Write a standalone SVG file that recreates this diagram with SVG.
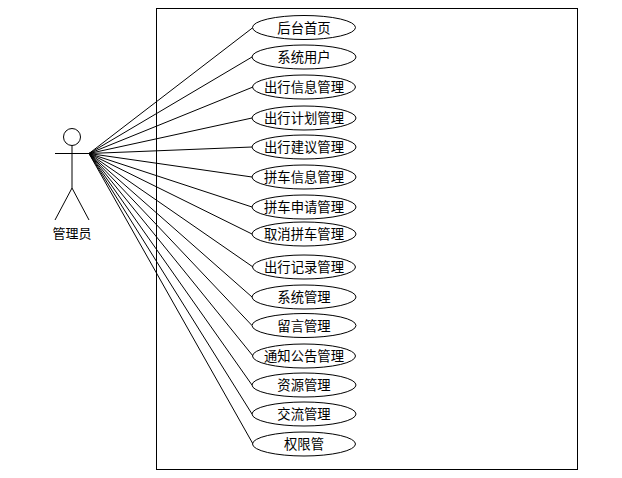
<svg xmlns="http://www.w3.org/2000/svg" width="622" height="478" viewBox="0 0 622 478">
<style>
.s{fill:none;stroke:#000;stroke-width:1}
.u{fill:#fff;stroke:#000;stroke-width:1}
text{font-family:"Noto Sans CJK SC","Liberation Sans",sans-serif;font-size:13.330px;text-anchor:middle;fill:#000}
</style>
<rect width="622" height="478" fill="#fff"/>
<rect id="boundary" class="s" x="156.500" y="8.500" width="421" height="461"/>
<g id="connectors" class="s">
<line x1="89" y1="153.500" x2="253" y2="27.500"/>
<line x1="89" y1="153.500" x2="252" y2="57"/>
<line x1="89" y1="153.500" x2="253" y2="87"/>
<line x1="89" y1="153.500" x2="252" y2="118"/>
<line x1="89" y1="153.500" x2="252" y2="147"/>
<line x1="89" y1="153.500" x2="252" y2="177"/>
<line x1="89" y1="153.500" x2="252" y2="207"/>
<line x1="89" y1="153.500" x2="252" y2="234"/>
<line x1="89" y1="153.500" x2="253" y2="267"/>
<line x1="89" y1="153.500" x2="252" y2="297"/>
<line x1="89" y1="153.500" x2="252" y2="325.500"/>
<line x1="89" y1="153.500" x2="253" y2="356"/>
<line x1="89" y1="153.500" x2="252" y2="385"/>
<line x1="89" y1="153.500" x2="252" y2="414"/>
<line x1="89" y1="153.500" x2="253" y2="444"/>
</g>
<g id="actor" class="s">
<circle cx="72" cy="137" r="8.500"/>
<line x1="72" y1="145.500" x2="72" y2="188"/>
<line x1="55" y1="153.500" x2="89" y2="153.500"/>
<line x1="72" y1="188" x2="55" y2="220"/>
<line x1="72" y1="188" x2="89" y2="220"/>
</g>
<text id="actor-label" x="72" y="238" style="font-size:13px">管理员</text>
<g id="u1"><ellipse class="u" cx="304" cy="27.500" rx="51.500" ry="12"/><text x="304" y="32.500">后台首页</text></g>
<g id="u2"><ellipse class="u" cx="304" cy="57" rx="52" ry="12"/><text x="304" y="62">系统用户</text></g>
<g id="u3"><ellipse class="u" cx="304" cy="87" rx="51.500" ry="12"/><text x="304" y="92">出行信息管理</text></g>
<g id="u4"><ellipse class="u" cx="304" cy="118" rx="52" ry="12"/><text x="304" y="123">出行计划管理</text></g>
<g id="u5"><ellipse class="u" cx="304" cy="147" rx="52" ry="12"/><text x="304" y="152">出行建议管理</text></g>
<g id="u6"><ellipse class="u" cx="304" cy="177" rx="52" ry="12"/><text x="304" y="182">拼车信息管理</text></g>
<g id="u7"><ellipse class="u" cx="304" cy="207" rx="52" ry="12"/><text x="304" y="212">拼车申请管理</text></g>
<g id="u8"><ellipse class="u" cx="304" cy="234" rx="52" ry="12"/><text x="304" y="239">取消拼车管理</text></g>
<g id="u9"><ellipse class="u" cx="304" cy="267" rx="51.500" ry="12"/><text x="304" y="272">出行记录管理</text></g>
<g id="u10"><ellipse class="u" cx="304" cy="297" rx="52" ry="12"/><text x="304" y="302">系统管理</text></g>
<g id="u11"><ellipse class="u" cx="304" cy="325.500" rx="52" ry="12"/><text x="304" y="331">留言管理</text></g>
<g id="u12"><ellipse class="u" cx="304" cy="356" rx="51.500" ry="12"/><text x="304" y="361">通知公告管理</text></g>
<g id="u13"><ellipse class="u" cx="304" cy="385" rx="52" ry="12"/><text x="304" y="390">资源管理</text></g>
<g id="u14"><ellipse class="u" cx="304" cy="414" rx="52" ry="12"/><text x="304" y="419">交流管理</text></g>
<g id="u15"><ellipse class="u" cx="304" cy="444" rx="51.500" ry="12"/><text x="304" y="449">权限管</text></g>
</svg>
